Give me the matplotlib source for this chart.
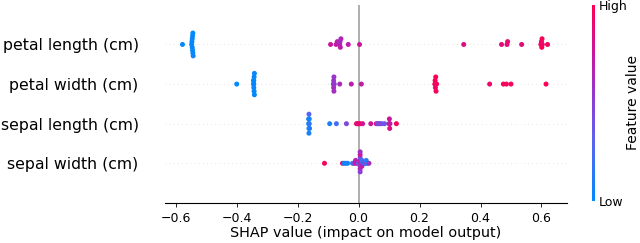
import numpy as np
import matplotlib
matplotlib.use("Agg")
import matplotlib.pyplot as plt
from matplotlib.colors import LinearSegmentedColormap

# features, top to bottom
features = ["petal length (cm)", "petal width (cm)", "sepal length (cm)", "sepal width (cm)"]

# SHAP values per feature
shap_petal_length = [-0.578, -0.548, -0.547, -0.546, -0.546, -0.545, -0.545, -0.544, -0.544, -0.543,
                     -0.092, -0.074, -0.070, -0.062, -0.061, -0.060, -0.058, -0.034, 0.003,
                     0.345, 0.469, 0.487, 0.489, 0.535, 0.598, 0.600, 0.601, 0.602, 0.603, 0.620]
fval_petal_length = [0.02, 0.03, 0.0, 0.02, 0.04, 0.01, 0.03, 0.02, 0.0, 0.05,
                     0.75, 0.72, 0.68, 0.66, 0.62, 0.70, 0.64, 0.70, 0.78,
                     0.85, 0.88, 0.86, 0.90, 0.88, 0.95, 0.92, 1.0, 0.97, 0.93, 0.96]

shap_petal_width = [-0.400, -0.345, -0.345, -0.344, -0.344, -0.344, -0.343, -0.343, -0.342, -0.342,
                    -0.083, -0.082, -0.082, -0.081, -0.081, -0.080, -0.062, -0.024, 0.009,
                    0.250, 0.251, 0.252, 0.253, 0.254, 0.256, 0.430, 0.475, 0.485, 0.500, 0.615]
fval_petal_width = [0.0, 0.02, 0.0, 0.03, 0.01, 0.04, 0.02, 0.0, 0.03, 0.01,
                    0.58, 0.55, 0.62, 0.57, 0.60, 0.55, 0.62, 0.70, 0.72,
                    0.95, 0.97, 0.93, 1.0, 0.96, 0.94, 0.92, 0.95, 0.97, 0.96, 0.98]

shap_sepal_length = [-0.164, -0.164, -0.163, -0.163, -0.163, -0.162, -0.162, -0.161,
                     -0.095, -0.073, -0.040, -0.007,
                     -0.004, 0.000, 0.005, 0.013, 0.040, 0.058, 0.062, 0.066, 0.070, 0.076,
                     0.085, 0.100, 0.101, 0.102, 0.103, 0.124]
fval_sepal_length = [0.05, 0.10, 0.02, 0.30, 0.08, 0.15, 0.04, 0.12,
                     0.08, 0.22, 0.45, 0.95,
                     0.92, 0.80, 0.95, 0.78, 0.78, 0.82, 0.45, 0.40, 0.50, 0.42,
                     0.38, 0.80, 0.76, 0.84, 0.72, 0.95]

shap_sepal_width = [-0.112, -0.053, -0.048, -0.042, -0.036,
                    -0.020, -0.015, -0.010, -0.010, -0.004, 0.000,
                    0.005, 0.005, 0.005, 0.005, 0.005, 0.005, 0.005, 0.005,
                    0.011, 0.011, 0.011, 0.016, 0.020, 0.025, 0.025, 0.030, 0.034]
fval_sepal_width = [0.95, 0.90, 0.05, 0.02, 0.08,
                    0.10, 0.45, 0.75, 0.70, 0.65, 0.30,
                    0.60, 0.70, 0.55, 0.40, 0.65, 0.75, 0.50, 0.60,
                    0.45, 0.20, 0.70, 0.55, 0.05, 0.45, 0.15, 0.05, 0.60]

shap_rows = [shap_petal_length, shap_petal_width, shap_sepal_length, shap_sepal_width]
fval_rows = [fval_petal_length, fval_petal_width, fval_sepal_length, fval_sepal_width]

# shap-like red/blue colormap
red_blue = LinearSegmentedColormap.from_list(
    "red_blue", [(0.0, "#008bfb"), (0.3, "#5a64f0"), (0.5, "#8a3fd6"),
                 (0.75, "#c8169e"), (1.0, "#ff0051")])


def swarm_offsets(vals, row_height=0.4, nbins=100):
    # stack points that fall into the same bin, alternating up / down
    vals = np.asarray(vals)
    n = len(vals)
    quant = np.round(nbins * (vals - vals.min()) / (vals.max() - vals.min() + 1e-8))
    inds = np.argsort(quant, kind="stable")
    layer = 0
    last_bin = -1
    ys = np.zeros(n)
    for ind in inds:
        if quant[ind] != last_bin:
            layer = 0
        ys[ind] = np.ceil(layer / 2) * ((layer % 2) * 2 - 1)
        layer += 1
        last_bin = quant[ind]
    ys *= 0.9 * (row_height / np.max(ys + 1))
    return ys


fig = plt.figure(figsize=(6.4, 2.43), dpi=100)
ax = fig.add_axes([0.258, 0.165, 0.628, 0.815])

n = len(features)
ax.axvline(0, color="#999999", lw=1.1, zorder=-1)
for i, (sv, fv) in enumerate(zip(shap_rows, fval_rows)):
    pos = n - 1 - i
    ax.axhline(pos, color="#cccccc", lw=0.5, dashes=(1, 5), zorder=-1)
    ys = swarm_offsets(sv)
    ax.scatter(sv, pos + ys, c=fv, cmap=red_blue, vmin=0, vmax=1, s=13,
               linewidth=0, zorder=3)

ax.set_xlim(-0.635, 0.684)
ax.set_ylim(-1, n)
ax.set_yticks(range(n))
ax.set_yticklabels(features[::-1], fontsize=11.3)
ax.tick_params("y", length=0, pad=19)
ax.tick_params("x", labelsize=9, length=3, width=0.6)
ax.set_xlabel("SHAP value (impact on model output)", fontsize=10.4, labelpad=1)
for side in ["left", "right", "top"]:
    ax.spines[side].set_visible(False)
ax.spines["bottom"].set_linewidth(0.8)

# colorbar
cax = fig.add_axes([0.925, 0.173, 0.004, 0.807])
grad = np.linspace(0, 1, 256).reshape(-1, 1)
cax.imshow(grad, aspect="auto", cmap=red_blue, origin="lower", extent=[0, 1, 0, 1])
cax.set_xticks([])
cax.yaxis.tick_right()
cax.set_yticks([0, 1])
cax.set_yticklabels(["Low", "High"])
cax.tick_params(length=0, pad=3, labelsize=9)
for s in cax.spines.values():
    s.set_visible(False)
cax.yaxis.set_label_position("right")
cax.set_ylabel("Feature value", fontsize=10, labelpad=-1)

fig.savefig("out.png", dpi=100)
